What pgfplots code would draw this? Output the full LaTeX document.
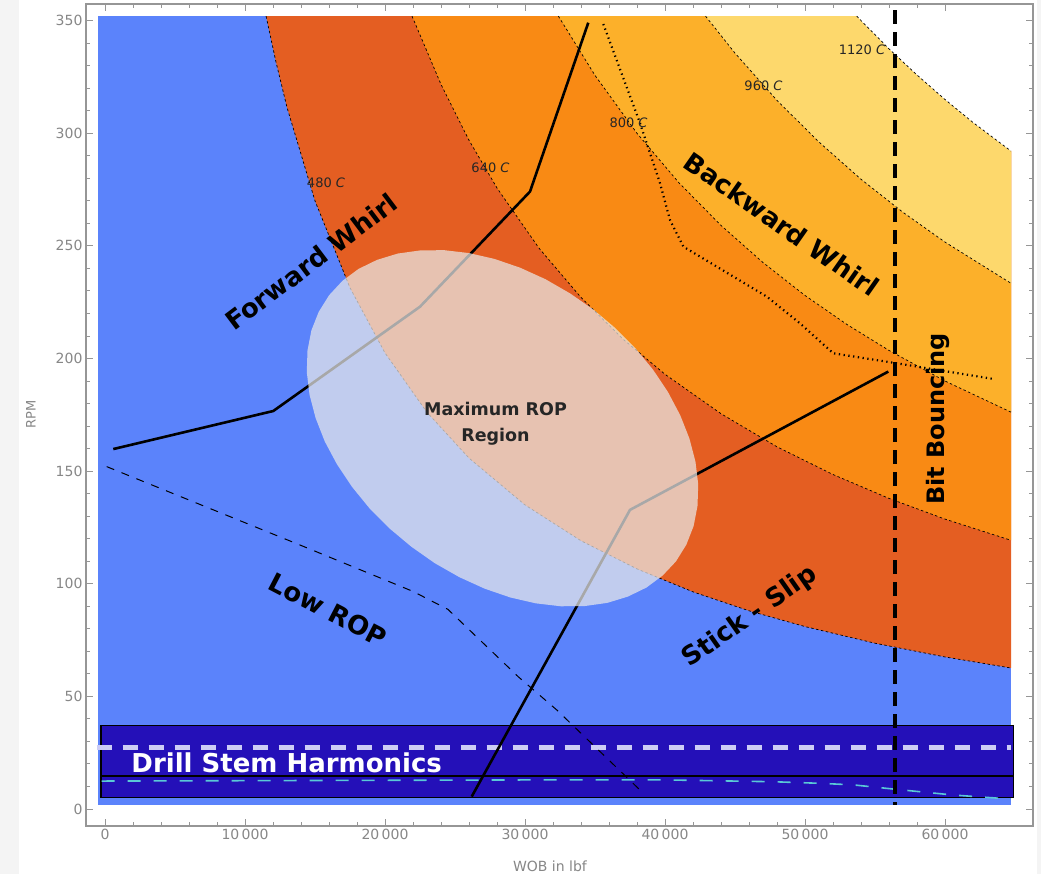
\documentclass[border=0pt]{standalone}
\usepackage{pgfplots}
\pgfplotsset{compat=1.18}
\usepackage{fontspec}
\setmainfont{DejaVu Sans}
\definecolor{cBlue}{RGB}{91,131,251}
\definecolor{cRed}{RGB}{228,94,34}
\definecolor{cOrange}{RGB}{249,138,20}
\definecolor{cYOrange}{RGB}{252,176,42}
\definecolor{cLYellow}{RGB}{253,216,108}
\definecolor{cBand}{RGB}{36,16,184}
\definecolor{cLav}{RGB}{205,205,245}
\definecolor{cCyan}{RGB}{90,200,215}
\definecolor{cEll}{RGB}{233,233,233}
\definecolor{cFrame}{RGB}{150,150,150}
\definecolor{cTick}{RGB}{135,135,135}
\definecolor{cStrip}{RGB}{244,244,244}
\begin{document}
\begin{tikzpicture}
\fill[white] (0,0) rectangle (1041pt,874pt);
\fill[cStrip] (0,0) rectangle (19pt,874pt);
\fill[cStrip] (1037pt,0) rectangle (1041pt,874pt);
\begin{axis}[
  at={(86pt,48pt)}, anchor=south west,
  scale only axis, width=947pt, height=822pt,
  xmin=-1357, xmax=66287, ymin=-7.55, ymax=357.4,
  xtick={0,10000,20000,30000,40000,50000,60000},
  xticklabels={0,10\,000,20\,000,30\,000,40\,000,50\,000,60\,000},
  ytick={0,50,100,150,200,250,300,350},
  yticklabels={0,50,100,150,200,250,300,350},
  scaled x ticks=false, scaled y ticks=false,
  minor x tick num=4, minor y tick num=4,
  tick align=inside,
  major tick length=7pt, minor tick length=4pt,
  axis line style={cFrame, line width=1.1pt},
  every tick/.style={cFrame, line width=0.9pt},
  tick label style={font=\fontsize{14}{16}\selectfont, text=cTick},
  /pgf/number format/assume math mode=true,
]
% background region
\addplot[fill=cBlue, draw=none] coordinates {(-520,1.8) (64716,1.8) (64716,352) (-520,352)} -- cycle;
% 480 C and above
\addplot[fill=cRed, draw=none] coordinates {(11506,352) (12200,332.0) (13000,311.5) (15000,270) (17500,231.4) (20000,202.5) (23000,176.1) (26000,155.8) (30000,135) (34000,119.1) (38000,106.6) (42000,96.4) (46000,88.0) (50000,81.0) (55000,73.6) (60000,67.5) (64716,62.6) (64716,352)} -- cycle;
% 640 C and above
\addplot[fill=cOrange, draw=none] coordinates {(21932,352) (24000,321.7) (26000,296.9) (28000,275.7) (31000,249.0) (34000,227.1) (37000,208.6) (40000,193.0) (44000,175.5) (48000,160.8) (52000,148.5) (56000,137.9) (60000,128.7) (64716,119.3) (64716,352)} -- cycle;
% 800 C and above
\addplot[fill=cYOrange, draw=none] coordinates {(32386,352) (35000,325.7) (38000,300.0) (41000,278.0) (44000,259.1) (47000,242.6) (50000,228.0) (53000,215.1) (56000,203.6) (60000,190.0) (64716,176.2) (64716,352)} -- cycle;
% 960 C and above
\addplot[fill=cLYellow, draw=none] coordinates {(42898,352) (45000,335.6) (48000,314.6) (51000,296.1) (54000,279.6) (57000,264.9) (60000,251.7) (64716,233.4) (64716,352)} -- cycle;
% 1120 C and above (white)
\addplot[fill=white, draw=none] coordinates {(53693,352) (56000,337.5) (58000,325.9) (60000,315.0) (62000,304.8) (64716,292.1) (64800,292.1) (64800,353) (53693,353)} -- cycle;
% contour lines
\addplot[black, line width=0.7pt, dash pattern=on 2.5pt off 2.5pt] coordinates {(11506,352) (12200,332.0) (13000,311.5) (15000,270) (17500,231.4) (20000,202.5) (23000,176.1) (26000,155.8) (30000,135) (34000,119.1) (38000,106.6) (42000,96.4) (46000,88.0) (50000,81.0) (55000,73.6) (60000,67.5) (64716,62.6)};
\addplot[black, line width=0.7pt, dash pattern=on 2.5pt off 2.5pt] coordinates {(21932,352) (24000,321.7) (26000,296.9) (28000,275.7) (31000,249.0) (34000,227.1) (37000,208.6) (40000,193.0) (44000,175.5) (48000,160.8) (52000,148.5) (56000,137.9) (60000,128.7) (64716,119.3)};
\addplot[black, line width=0.7pt, dash pattern=on 2.5pt off 2.5pt] coordinates {(32386,352) (35000,325.7) (38000,300.0) (41000,278.0) (44000,259.1) (47000,242.6) (50000,228.0) (53000,215.1) (56000,203.6) (60000,190.0) (64716,176.2)};
\addplot[black, line width=0.7pt, dash pattern=on 2.5pt off 2.5pt] coordinates {(42898,352) (45000,335.6) (48000,314.6) (51000,296.1) (54000,279.6) (57000,264.9) (60000,251.7) (64716,233.4)};
\addplot[black, line width=0.7pt, dash pattern=on 2.5pt off 2.5pt] coordinates {(53693,352) (56000,337.5) (58000,325.9) (60000,315.0) (62000,304.8) (64716,292.1)};
% forward whirl line
\addplot[black, line width=2.6pt, line join=round] coordinates {(593,159.8) (12021,176.7) (22500,223.0) (30357,274.1) (34521,349.1)};
% backward whirl dotted
\addplot[black, line width=2.2pt, dash pattern=on 1.3pt off 3.5pt] coordinates {(35593,348.5) (38215,304.5) (39644,277.8) (40358,261.5) (41308,249.7) (43694,240.8) (47265,227.5) (49644,215.6) (52022,202.3) (55837,198.6) (63573,190.8)};
% drill stem harmonics band
\addplot[fill=cBand, draw=black, line width=1.4pt] coordinates {(-286,5.2) (64879,5.2) (64879,37.0) (-286,37.0)} -- cycle;
\addplot[black, line width=1.1pt] coordinates {(-286,14.65) (64879,14.65)};
\addplot[cLav, line width=5pt, dash pattern=on 15pt off 11pt] coordinates {(-593,27.4) (64714,27.4)};
\addplot[cCyan, line width=1.6pt, dash pattern=on 13pt off 13pt] coordinates {(-236,12.4) (30000,12.9) (40119,12.9) (47736,12.1) (51071,11.4) (53450,10.7) (57021,8.4) (60593,6.2) (64714,4.4)};
% low ROP dashed
\addplot[black, line width=1pt, dash pattern=on 8pt off 8pt] coordinates {(121,152.0) (13929,117.2) (22000,96.6) (24500,88.6) (29521,58.7) (32264,44) (38451,7.0)};
% stick-slip line
\addplot[black, line width=2.6pt, line join=round] coordinates {(26193,5.5) (37501,132.8) (55951,194.2)};
% maximum ROP ellipse
\addplot[fill=cEll, fill opacity=0.72, draw=none] coordinates {(40780,109.9) (39825,103.6) (38672,98.3) (37349,94.3) (35872,91.5) (34263,90.1) (32558,90.0) (30777,91.3) (28958,93.9) (27128,97.8) (25322,102.9) (23565,109.1) (21893,116.4) (20333,124.5) (18907,133.4) (17648,143.0) (16572,153.0) (15697,163.2) (15043,173.6) (14610,183.9) (14415,193.9) (14463,203.5) (14743,212.5) (15265,220.7) (16008,228.1) (16962,234.5) (18115,239.8) (19437,243.8) (20915,246.6) (22524,248.0) (24229,248.1) (26010,246.8) (27829,244.2) (29659,240.3) (31465,235.2) (33221,228.9) (34894,221.7) (36454,213.5) (37879,204.6) (39139,195.1) (40215,185.1) (41090,174.8) (41744,164.5) (42177,154.2) (42372,144.2) (42324,134.6) (42044,125.6) (41522,117.3)} -- cycle;
% bit bouncing line
\addplot[black, line width=4.6pt, dash pattern=on 14pt off 8pt] coordinates {(56430,354.6) (56430,1.8)};
% labels
\node[rotate=37, font=\bfseries\fontsize{26}{30}\selectfont] at (axis cs:14715,242.9) {Forward Whirl};
\node[rotate=-35, font=\bfseries\fontsize{26}{30}\selectfont] at (axis cs:48337,259.7) {Backward Whirl};
\node[rotate=90, font=\bfseries\fontsize{24}{28}\selectfont] at (axis cs:59501,173.2) {Bit Bouncing};
\node[rotate=35, font=\bfseries\fontsize{26}{30}\selectfont] at (axis cs:46072,85.2) {Stick - Slip};
\node[rotate=-27.5, font=\bfseries\fontsize{26}{30}\selectfont] at (axis cs:15929,88.4) {Low ROP};
\node[align=center, font=\bfseries\fontsize{17.5}{26}\selectfont, text=black!85] at (axis cs:27893,171.1) {Maximum ROP\\Region};
\node[font=\bfseries\fontsize{26}{30}\selectfont, text=white] at (axis cs:12979,20.4) {Drill Stem Harmonics};
\node[font=\fontsize{13}{15}\selectfont, text=black!85] at (axis cs:15786,278) {480 \textit{C}};
\node[font=\fontsize{13}{15}\selectfont, text=black!85] at (axis cs:27536,284.6) {640 \textit{C}};
\node[font=\fontsize{13}{15}\selectfont, text=black!85] at (axis cs:37394,304.5) {800 \textit{C}};
\node[font=\fontsize{13}{15}\selectfont, text=black!85] at (axis cs:47036,321) {960 \textit{C}};
\node[font=\fontsize{13}{15}\selectfont, text=black!85] at (axis cs:54072,337) {1120 \textit{C}};
\end{axis}
\node[font=\fontsize{14}{16}\selectfont, text=cTick] at (550pt,8pt) {WOB in lbf};
\node[rotate=90, font=\fontsize{13}{15}\selectfont, text=cTick] at (31pt,460pt) {RPM};
\end{tikzpicture}
\end{document}
